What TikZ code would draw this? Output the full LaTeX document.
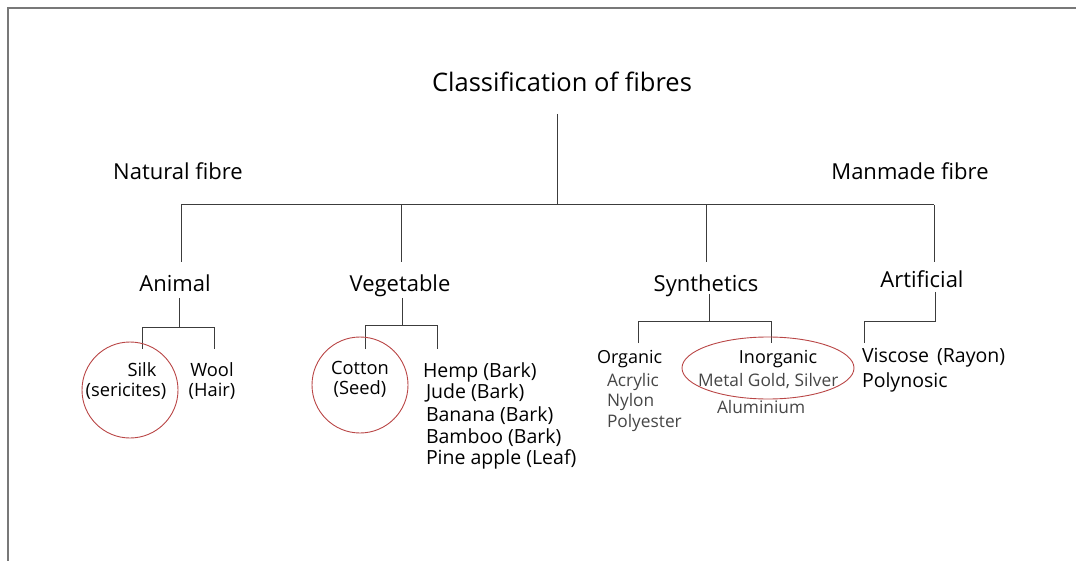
\documentclass[tikz,border=0pt]{standalone}
\usepackage{fontspec}
\setmainfont{Open Sans}
\definecolor{circred}{RGB}{185,70,70}
\definecolor{linegray}{RGB}{60,60,60}
\definecolor{framegray}{RGB}{120,120,120}
\definecolor{txtgray}{RGB}{70,70,70}
\begin{document}
\begin{tikzpicture}[x=1pt,y=-1pt,
  txt/.style={inner sep=0pt,outer sep=0pt,text=black},
  ttl/.style={txt,font=\fontsize{25.5}{28}\selectfont},
  lvl/.style={txt,font=\fontsize{22}{24}\selectfont},
  sub/.style={txt,font=\fontsize{18.3}{22}\selectfont},
  veglist/.style={txt,font=\fontsize{19.5}{22}\selectfont},
  subtitle/.style={txt,font=\fontsize{18}{22}\selectfont},
  lite/.style={txt,font=\fontsize{17.3}{20}\selectfont,text=txtgray},
  conn/.style={draw=linegray,line width=1pt},
  redmark/.style={draw=circred,line width=0.9pt}
]
\useasboundingbox (0,0) rectangle (1076,561);
\draw[framegray,line width=1.2pt] (8,561) -- (8,8) -- (1076,8);

% texts
\node[ttl,anchor=base] (title) at (562,92) {Classification of fibres};
\node[lvl,anchor=base] (nat) at (178,180) {Natural fibre};
\node[lvl,anchor=base] (man) at (910,180) {Manmade fibre};
\node[lvl,anchor=base] (animal) at (175,292) {Animal};
\node[lvl,anchor=base] (veg) at (400,292) {Vegetable};
\node[lvl,anchor=base] (syn) at (706,292) {Synthetics};
\node[lvl,anchor=base] (art) at (922,288) {Artificial};

\node[sub,anchor=base] (silk) at (142,376) {Silk};
\node[sub,anchor=base] (seric) at (126,396) {(sericites)};
\node[sub,anchor=base] (wool) at (212,376) {Wool};
\node[sub,anchor=base] (hair) at (212,396) {(Hair)};
\node[sub,anchor=base] (cotton) at (360,374) {Cotton};
\node[sub,anchor=base] (seed) at (360,394) {(Seed)};

\node[veglist,anchor=base west] (hemp) at (423,377) {Hemp (Bark)};
\node[veglist,anchor=base west] (jude) at (426,398) {Jude (Bark)};
\node[veglist,anchor=base west] (banana) at (426,421) {Banana (Bark)};
\node[veglist,anchor=base west] (bamboo) at (426,443) {Bamboo (Bark)};
\node[veglist,anchor=base west] (pine) at (426,464) {Pine apple (Leaf)};

\node[subtitle,anchor=base west] (org) at (597,363) {Organic};
\node[lite,anchor=base west] (acr) at (607,386) {Acrylic};
\node[lite,anchor=base west] (nyl) at (607,406) {Nylon};
\node[lite,anchor=base west] (poly) at (607,427) {Polyester};
\node[subtitle,anchor=base] (inorg) at (778,363) {Inorganic};
\node[lite,anchor=base west] (metal) at (698,386) {Metal Gold, Silver};
\node[lite,anchor=base west] (alu) at (717,413) {Aluminium};
\node[veglist,anchor=base west] (visc) at (862,362) {Viscose\hspace{0.15em} (Rayon)};
\node[veglist,anchor=base west] (polyn) at (862,387) {Polynosic};

% tree connectors
\coordinate (tb) at (557,114);
\coordinate (hub) at (557,205);
\coordinate (bl) at (181,205);
\coordinate (br) at (934,205);
\draw[conn] (tb) -- (hub);
\draw[conn] (bl) -- (br);
\draw[conn] (181,205) -- (181,262);
\draw[conn] (401,205) -- (401,262);
\draw[conn] (706,205) -- (706,262);
\draw[conn] (934,205) -- (934,262);

% animal
\draw[conn] (179,298) -- (179,327);
\draw[conn] (142,349) -- (142,327) -- (214,327) -- (214,349);
% vegetable
\draw[conn] (402,298) -- (402,325);
\draw[conn] (365,349) -- (365,325) -- (437,325) -- (437,349);
% synthetics
\draw[conn] (709,294) -- (709,321);
\draw[conn] (638,343) -- (638,321) -- (771,321) -- (771,343);
% artificial
\draw[conn] (935,292) -- (935,321) -- (864,321) -- (864,343);

% red marks
\draw[redmark] (130,390) circle (48);
\draw[redmark] (360,385) circle (48);
\draw[redmark] (768,368) ellipse (86 and 31);
\end{tikzpicture}
\end{document}
